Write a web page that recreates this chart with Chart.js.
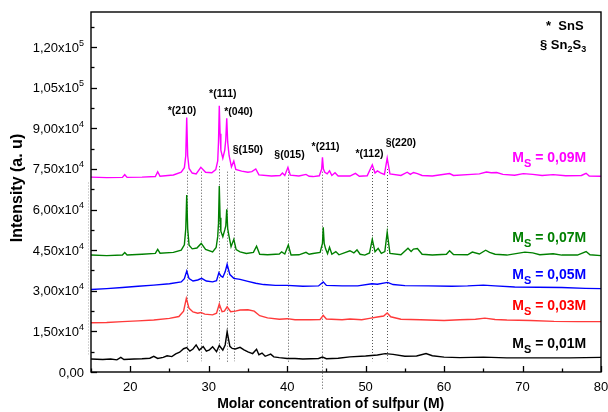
<!DOCTYPE html>
<html><head><meta charset="utf-8">
<script src="https://cdn.jsdelivr.net/npm/chart.js@4/dist/chart.umd.min.js"></script>
<style>html,body{margin:0;padding:0;background:#fff}#wrap{width:608px;height:412px}</style>
</head><body><div id="wrap"><canvas id="c" width="608" height="412"></canvas></div>
<script>
// ---- tick values ----
const xTickValues = [20, 30, 40, 50, 60, 70, 80];
const xMinorTicks = [15, 25, 35, 45, 55, 65, 75];
const yTickValues = [0, 15000, 30000, 45000, 60000, 75000, 90000, 105000, 120000];
const yMinorTicks = [7500, 22500, 37500, 52500, 67500, 82500, 97500, 112500, 127500];

// ---- series names ----
const seriesNames = ['0,01M', '0,03M', '0,05M', '0,07M', '0,09M'];

// ---- series values [x, intensity] ----
const ms001 = [[15,4800],[16.5,4600],[17.5,4800],[18.3,4500],[18.8,5400],[19.2,4600],[20.5,4800],[21.5,4900],[22.5,5100],[23.0,5800],[23.5,5000],[24.2,5400],[24.7,6000],[25.3,5700],[25.8,6700],[26.3,7300],[26.8,8600],[27.2,9000],[27.6,7700],[28.0,8500],[28.4,10000],[28.8,8100],[29.3,9400],[29.7,7700],[30.1,8200],[30.5,9300],[31.0,7500],[31.35,9800],[31.8,8100],[32.1,10000],[32.35,14900],[32.7,9500],[33.0,8700],[33.4,8500],[34.0,9100],[34.5,8200],[35.0,7400],[35.6,6800],[36.1,8400],[36.4,6400],[36.8,7000],[37.2,5800],[37.9,6600],[38.3,5600],[39.0,5300],[40.0,5000],[41.0,5000],[42.0,4800],[43.0,4900],[44.0,5000],[44.5,5500],[45.0,4900],[46.5,5100],[48.0,5600],[50.0,5900],[51.5,6300],[52.5,6800],[53.5,6500],[55.0,5800],[56.5,5900],[57.7,6800],[58.5,6000],[60.0,5500],[62.0,5300],[65.0,5500],[68.0,5200],[72.0,5200],[76.0,5200],[80.0,5400]];
const ms003 = [[15,18200],[17,18300],[19,18600],[21,18900],[23,19200],[25,19800],[26.2,20500],[26.8,22500],[27.15,27200],[27.5,23500],[28.0,22200],[28.6,21700],[29.0,22000],[29.5,21400],[30.5,21100],[31.0,21700],[31.35,25100],[31.7,22300],[32.0,22500],[32.35,24100],[32.8,22300],[33.4,22500],[34.0,22900],[35.0,23000],[35.8,22500],[36.5,20800],[37.5,20000],[39.0,19500],[40.0,19700],[41.0,19300],[43.0,19300],[44.2,19400],[44.6,20900],[45.0,19600],[47.0,19300],[48.0,19600],[49.5,19300],[50.5,19800],[51.5,20300],[52.3,20700],[52.75,21800],[53.2,20400],[54.5,19500],[57.0,19300],[60.0,19000],[62.0,19300],[64.0,19500],[65.2,19900],[66.5,19400],[68.0,19200],[71.0,19000],[74.0,18700],[77.0,18600],[80.0,18600]];
const ms005 = [[15,30500],[17,30800],[19,31200],[21,31700],[23,32100],[25,32600],[26.5,33300],[26.9,34500],[27.2,37300],[27.5,34500],[28.0,33600],[28.6,34000],[29.1,34600],[29.7,33600],[30.5,33300],[31.0,33700],[31.3,36700],[31.55,35500],[31.8,35000],[32.1,37000],[32.35,39800],[32.7,36000],[33.2,34600],[34.0,34200],[35.0,33500],[36.0,32800],[37.0,32300],[38.5,32000],[40.0,32000],[42.0,31700],[44.0,31800],[44.6,33300],[45.0,32000],[47.0,31800],[49.0,31800],[50.8,32600],[51.5,32400],[52.8,33100],[53.5,32300],[55.0,31900],[58.0,31800],[61.0,31700],[63.0,31800],[65.0,32100],[66.5,31800],[69.0,31400],[72.0,31300],[75.0,31200],[78.0,30900],[80.0,30800]];
const ms007 = [[15,43200],[17,43000],[19.0,43200],[19.3,44100],[19.6,43200],[21.5,43500],[23.2,43800],[23.5,45300],[23.8,43900],[25.5,44200],[26.5,45000],[26.9,47000],[27.08,53000],[27.2,65400],[27.32,53000],[27.5,46800],[27.9,45500],[28.5,45800],[29.05,47500],[29.6,45300],[30.5,44400],[30.95,46000],[31.15,50000],[31.25,55000],[31.35,68700],[31.45,57000],[31.55,52000],[31.8,50000],[32.05,52500],[32.18,54000],[32.3,60100],[32.42,53000],[32.6,50000],[32.85,46300],[33.2,49000],[33.5,45200],[34.0,44400],[34.8,43800],[35.7,44200],[36.1,46500],[36.5,43500],[37.5,43300],[39.0,43600],[39.3,44400],[39.7,43600],[40.15,46900],[40.5,43200],[41.5,43300],[42.4,44200],[42.8,43500],[43.3,43800],[44.2,44200],[44.5,47500],[44.6,53500],[44.72,47500],[44.9,45500],[45.15,43700],[45.4,46100],[45.7,43500],[46.2,44500],[46.6,43300],[48.0,44800],[48.5,44000],[48.9,45100],[49.3,43500],[49.9,43200],[50.5,44000],[50.85,49000],[51.2,44400],[51.6,45700],[52.0,43800],[52.45,44500],[52.75,51700],[53.1,43800],[54.5,43300],[55.4,45700],[55.8,44500],[56.1,45400],[56.6,45600],[57.2,43500],[58.5,43200],[60.3,43500],[60.7,44800],[61.2,43400],[63.0,43300],[63.6,44300],[64.5,43600],[65.3,45000],[65.8,44200],[66.5,43500],[68.0,43200],[70.3,44300],[71.3,44000],[72.2,43300],[73.9,43700],[75.0,43200],[77.0,43200],[78.1,44500],[78.6,43300],[80.0,43000]];
const ms009 = [[15,72000],[17,71800],[19.0,71900],[19.3,72900],[19.6,71900],[21.5,72000],[23.2,72200],[23.5,74000],[23.8,72300],[25.5,72800],[26.5,73800],[26.9,75500],[27.08,80000],[27.2,94000],[27.32,80000],[27.5,75200],[27.9,73500],[28.4,73200],[29.0,75600],[29.6,73800],[30.4,73600],[30.9,74800],[31.15,78000],[31.25,85000],[31.35,98400],[31.45,88000],[31.55,82000],[31.8,79000],[32.05,82000],[32.18,86000],[32.3,93700],[32.42,85000],[32.6,80000],[32.9,75800],[33.2,77900],[33.45,74800],[34.2,74200],[35.0,73800],[35.5,74000],[36.0,75000],[36.4,72800],[38.0,72400],[39.1,72600],[39.4,73500],[39.7,72600],[40.1,75600],[40.4,72700],[41.5,72400],[42.4,73000],[42.8,72300],[43.3,72200],[44.1,72500],[44.4,75000],[44.5,79300],[44.62,75000],[44.8,73800],[45.1,73200],[45.4,74300],[45.7,72600],[46.1,73600],[46.5,72400],[48.0,72400],[48.7,73400],[49.2,72300],[50.2,72500],[50.85,76500],[51.2,73500],[51.5,74300],[51.9,73600],[52.4,73000],[52.75,79000],[53.1,73200],[54.5,72600],[55.3,73800],[55.7,73000],[56.1,73700],[56.6,73300],[57.2,72600],[58.5,72400],[60.7,73300],[61.2,72600],[63.5,73000],[64.5,73200],[65.4,73900],[66.0,73600],[66.7,73700],[67.5,73000],[69.0,72700],[70.1,73300],[71.3,73000],[72.5,72600],[73.9,72900],[75.5,72500],[77.5,72600],[78.1,73400],[78.5,72400],[80.0,72300]];

// ---- annotations ----
const peakLabels = ['*(210)', '*(111)', '*(040)', '§(150)', '§(015)', '*(211)', '*(112)', '§(220)'];
const peakLabelX = [26.6, 31.8, 33.8, 35.0, 40.3, 44.9, 50.5, 54.5];
const peakLabelY = [96400, 102700, 96000, 82000, 80200, 83100, 80500, 84600];
const dotLineX = [27.2, 29.0, 31.35, 32.3, 33.2, 40.1, 44.5, 50.85, 52.75];
const dotLineTop = [74000, 74000, 76000, 74000, 74000, 74000, 74000, 75000, 75000];
const dotLineBottom = [3500, 4000, 4000, 3500, 4000, 3800, -6500, 4000, 4000];
const seriesLabelX = [68.7, 68.7, 68.7, 68.7, 68.7];
const seriesLabelY = [8900, 22900, 34400, 48000, 77600];

const colors = ['#000000', '#ff3a3a', '#0000ff', '#008000', '#ff00ff'];
const labelColors = ['#000000', '#ff0000', '#0000ff', '#008000', '#ff00ff'];
const FONT = '"Liberation Sans", Arial, sans-serif';

const allSeries = [ms001, ms003, ms005, ms007, ms009];

function splitY(v) {
  if (v === 0) return ['0,00', ''];
  const e = Math.floor(Math.log10(v));
  const m = v / Math.pow(10, e);
  return [m.toFixed(2).replace('.', ',') + 'x10', String(e)];
}

const deco = {
  id: 'deco',
  beforeDatasetsDraw(chart) {
    const ctx = chart.ctx, xs = chart.scales.x, ys = chart.scales.y;
    ctx.save();
    ctx.strokeStyle = '#555';
    ctx.lineWidth = 1;
    ctx.setLineDash([1, 2]);
    dotLineX.forEach((xv, i) => {
      const px = Math.round(xs.getPixelForValue(xv)) + 0.5;
      ctx.beginPath();
      ctx.moveTo(px, ys.getPixelForValue(dotLineTop[i]));
      ctx.lineTo(px, ys.getPixelForValue(dotLineBottom[i]));
      ctx.stroke();
    });
    ctx.strokeStyle = '#aaa';
    const ax = chart.chartArea.left - 2.5;
    ctx.beginPath();
    ctx.moveTo(ax, ys.getPixelForValue(70000));
    ctx.lineTo(ax, ys.getPixelForValue(6500));
    ctx.stroke();
    ctx.restore();
  },
  afterDraw(chart) {
    const ctx = chart.ctx, xs = chart.scales.x, ys = chart.scales.y, a = chart.chartArea;
    ctx.save();
    ctx.strokeStyle = '#000';
    ctx.lineWidth = 1.4;
    ctx.setLineDash([]);
    ctx.strokeRect(a.left, a.top, a.right - a.left, a.bottom - a.top);
    ctx.lineWidth = 1.3;
    const tick = (x1, y1, x2, y2) => { ctx.beginPath(); ctx.moveTo(x1, y1); ctx.lineTo(x2, y2); ctx.stroke(); };
    xTickValues.forEach(v => { const p = Math.round(xs.getPixelForValue(v)) + 0.5; tick(p, a.bottom, p, a.bottom - 6); });
    xMinorTicks.forEach(v => { const p = Math.round(xs.getPixelForValue(v)) + 0.5; tick(p, a.bottom, p, a.bottom - 3.5); });
    yTickValues.forEach(v => { const p = Math.round(ys.getPixelForValue(v)) + 0.5; tick(a.left, p, a.left + 6, p); });
    yMinorTicks.forEach(v => { const p = Math.round(ys.getPixelForValue(v)) + 0.5; tick(a.left, p, a.left + 3.5, p); });

    // y tick labels with superscript exponent
    ctx.fillStyle = '#000';
    ctx.textBaseline = 'alphabetic';
    yTickValues.forEach(v => {
      const [mant, ex] = splitY(v);
      const y = ys.getPixelForValue(v);
      const right = a.left - 7;
      ctx.font = '9px ' + FONT;
      const ew = ex ? ctx.measureText(ex).width : 0;
      if (ex) { ctx.textAlign = 'right'; ctx.fillText(ex, right, y - 1.5); }
      ctx.font = '13px ' + FONT;
      ctx.textAlign = 'right';
      ctx.fillText(mant, right - ew, y + 4.5);
    });

    // peak labels
    ctx.fillStyle = '#000';
    ctx.font = 'bold 10.5px ' + FONT;
    ctx.textAlign = 'center';
    ctx.textBaseline = 'middle';
    peakLabels.forEach((t, i) => ctx.fillText(t, xs.getPixelForValue(peakLabelX[i]), ys.getPixelForValue(peakLabelY[i])));

    // series labels
    ctx.textAlign = 'left';
    ctx.textBaseline = 'alphabetic';
    seriesNames.forEach((name, i) => {
      let x = xs.getPixelForValue(seriesLabelX[i]);
      const y = ys.getPixelForValue(seriesLabelY[i]);
      ctx.fillStyle = labelColors[i];
      ctx.font = 'bold 14px ' + FONT;
      ctx.fillText('M', x, y);
      x += ctx.measureText('M').width;
      ctx.font = 'bold 11px ' + FONT;
      ctx.fillText('S', x, y + 5);
      x += ctx.measureText('S').width;
      ctx.font = 'bold 14px ' + FONT;
      ctx.fillText(' = ' + name, x, y);
    });

    // phase legend
    ctx.fillStyle = '#000';
    ctx.font = 'bold 13px ' + FONT;
    ctx.textAlign = 'left';
    ctx.fillText('*  SnS', a.right - 55, a.top + 18);
    let lx = a.right - 61, ly = a.top + 37;
    const seg = (t, big, dy) => {
      ctx.font = 'bold ' + (big ? 13 : 9) + 'px ' + FONT;
      ctx.fillText(t, lx, ly + dy);
      lx += ctx.measureText(t).width;
    };
    seg('§ Sn', true, 0); seg('2', false, 3); seg('S', true, 0); seg('3', false, 3);

    // axis titles
    ctx.font = 'bold 14px ' + FONT;
    ctx.textAlign = 'center';
    ctx.textBaseline = 'middle';
    ctx.fillText('Molar concentration of sulfpur (M)', a.left + (a.right - a.left) * 0.47, 404);
    ctx.translate(18, (a.top + a.bottom) / 2 - 4);
    ctx.rotate(-Math.PI / 2);
    ctx.font = 'bold 16px ' + FONT;
    ctx.fillText('Intensity (a. u)', 0, 0);
    ctx.restore();
  }
};

new Chart(document.getElementById('c'), {
  type: 'line',
  data: {
    datasets: allSeries.map((s, i) => ({
      label: 'Ms = ' + seriesNames[i],
      data: s.map(p => ({x: p[0], y: p[1]})),
      borderColor: colors[i],
      borderWidth: 1.4,
      pointRadius: 0,
      tension: 0,
      fill: false
    }))
  },
  options: {
    responsive: false,
    animation: false,
    devicePixelRatio: 1,
    layout: {padding: {top: 12, right: 7, left: 0, bottom: 0}},
    plugins: {legend: {display: false}, tooltip: {enabled: false}},
    scales: {
      x: {
        type: 'linear', min: 15, max: 80,
        grid: {display: false, drawTicks: false},
        border: {display: false},
        afterBuildTicks: s => { s.ticks = xTickValues.map(v => ({value: v})); },
        afterFit: s => { s.height = 40; s.paddingRight = 0; s.paddingLeft = 0; },
        ticks: {color: '#000', padding: 8, maxRotation: 0, autoSkip: false, font: {size: 13, family: FONT}}
      },
      y: {
        type: 'linear', min: 0, max: 133000,
        grid: {display: false, drawTicks: false},
        border: {display: false},
        afterBuildTicks: s => { s.ticks = yTickValues.map(v => ({value: v})); },
        afterFit: s => { s.width = 91; s.paddingTop = 0; s.paddingBottom = 0; },
        ticks: {display: false}
      }
    }
  },
  plugins: [deco]
});
</script>
</body></html>
